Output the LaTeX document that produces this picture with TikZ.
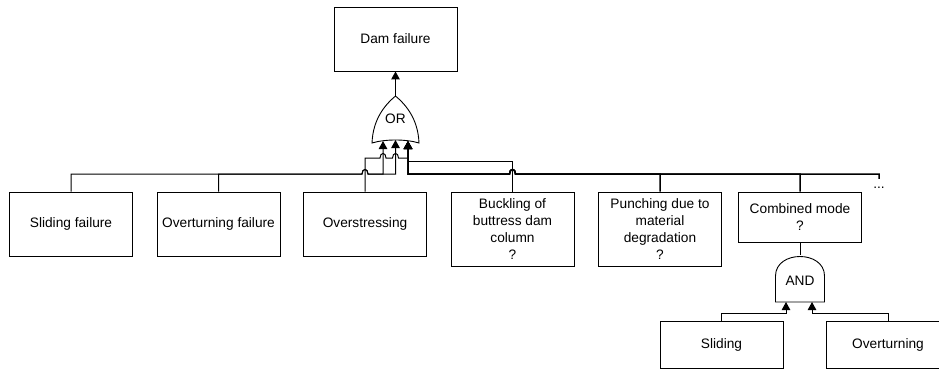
\documentclass[tikz,border=0pt]{standalone}
\usepackage{fontspec}
\setmainfont{Liberation Sans}
\usetikzlibrary{arrows.meta}
\tikzstyle{event}=[draw,line width=0.9pt,minimum width=123pt,inner sep=0pt,align=center]
\tikzstyle{gate}=[draw,line width=0.9pt,fill=white]
\tikzstyle{wire}=[draw,line width=1pt]
\tikzstyle{edge}=[wire,-{Triangle[width=8.5pt,length=8pt]}]
\tikzstyle{trunk}=[edge,line width=1.5pt]
\tikzstyle{jump}=[to path={.. controls +(0,-6) and +(0,-6) .. (\tikztotarget)}]

\begin{document}
\begin{tikzpicture}[x=1pt,y=-1pt,font=\fontsize{13.7}{16.7}\selectfont]

    \useasboundingbox (0,0) rectangle (939,369);

    % top event
    \node[event,minimum height=64pt] (dam) at (395.5,39) {Dam failure};

    % basic events
    \foreach \x/\y/\h/\name/\txt in {71/224/64/sl/Sliding failure, 218.5/224/64/ot/Overturning failure,
        365/224/64/os/Overstressing, 512.5/229/74/bu/{Buckling of\\buttress dam\\column\\?},
        660/229/74/pu/{Punching due to\\material\\degradation\\?}, 800/217/50/co/{Combined mode\\?},
        721.5/344.5/47/sl2/Sliding, 888/344.5/47/ot2/Overturning}
        \node[event,minimum height=\h pt] (\name) at (\x,\y) {\txt};

    \node[inner sep=0pt,text height=9pt,anchor=base] (more) at (879,188) {...};

    % OR gate
    \draw[gate] (372,143) .. controls (373,118) and (386,104) .. (395.5,96)
        .. controls (405,104) and (418,118) .. (419,143)
        .. controls (406,139) and (385,139) .. (372,143) -- cycle;
    \node (or) at (395.5,119) {OR};
    \coordinate (or-out) at (395.5,96);
    \foreach \x/\y/\name in {383/141/or-in1, 395.5/140/or-in2, 408/141/or-in3}
        \coordinate (\name) at (\x,\y);

    % AND gate
    \draw[gate] (775.5,302) -- (775.5,276) .. controls (775.5,250) and (824.5,250) .. (824.5,276)
        -- (824.5,302) -- cycle;
    \node (and) at (800,281) {AND};
    \coordinate (and-out) at (800,255);
    \foreach \x/\name in {786/and-in1, 812/and-in2}
        \coordinate (\name) at (\x,302);

    \draw[edge] (or-out) -- (dam);

    \draw[edge] (sl.north) |- (362,174) to[jump] (368,174) -| (or-in1);
    \draw[edge] (ot.north) |- (362,174) to[jump] (368,174) -| (or-in2);
    \draw[edge] (os.north) |- (380,158) to[jump] (386,158) -- (392.5,158) to[jump] (398.5,158) -| (or-in3);
    \draw[edge] (bu.north) -- ++(0,-30) -| (or-in3);

    \foreach \name in {pu,co,more}
        \draw[trunk] (\name.north) |- (515.5,174) to[jump] (509.5,174) -| (or-in3);

    \draw[wire] (co.south) -- (and-out);
    \draw[edge] (sl2.north) -- ++(0,-7) -| (and-in1);
    \draw[edge] (ot2.north) -- ++(0,-7) -| (and-in2);

\end{tikzpicture}
\end{document}
